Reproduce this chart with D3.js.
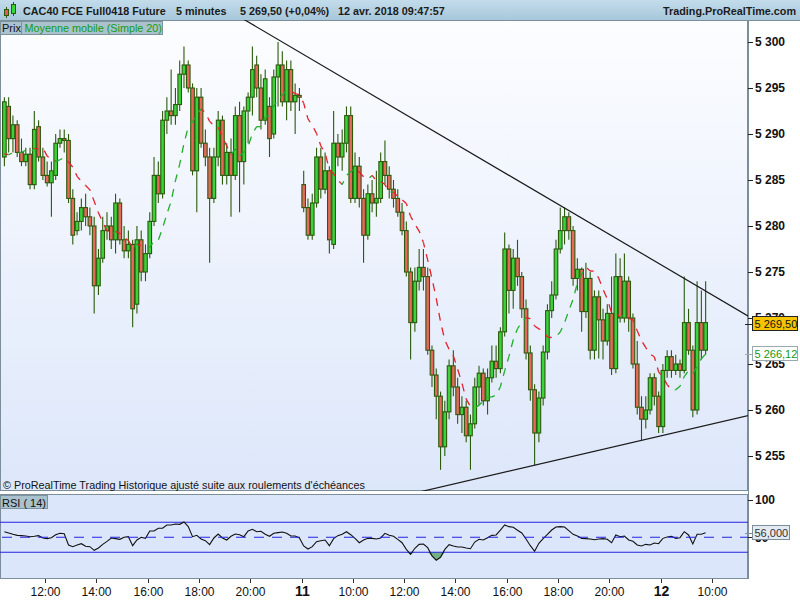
<!DOCTYPE html>
<html><head><meta charset="utf-8">
<script src="https://cdn.jsdelivr.net/npm/d3@7/dist/d3.min.js"></script>
<style>html,body{margin:0;padding:0;background:#fff;}svg{display:block;}</style>
</head><body>
<svg id="chart" width="800" height="600"></svg>
<script>
// ===================== DATA =====================
// trading sessions (10-minute candles), day 0 = 10 avr., 1 = 11 avr., 2 = 12 avr.
const sessions = [
  {day:0, start:"10:20", end:"21:50"},
  {day:1, start:"08:00", end:"21:50"},
  {day:2, start:"08:00", end:"09:40"}
];
const opens = [5287.5,5293,5289.5,5291,5288,5287,5287.8,5284.5,5290.8,5287.5,
5285.5,5284.7,5285.5,5289,5289.5,5289.3,5283,5279.5,5280.5,5282,
5281,5280,5273.5,5276.5,5279.5,5280,5278.5,5282.5,5278.5,5277.3,
5278,5271.5,5278.5,5275,5277,5280.5,5285.5,5283.5,5291.5,5292.5,
5292,5293.2,5296.5,5297.5,5295,5286,5294,5289,5287.5,5283,
5287.5,5291.5,5285.5,5288,5285.5,5292,5287,5292.5,5294,5297.5,
5295,5291.5,5293,5290,5296.2,5297.5,5293.5,5297,5293.5,5294.2,
5284.5,5282,5279,5282.5,5287.5,5284,5286,5278,5289,5287.5,
5289,5292,5283,5286.5,5283,5279,5283.5,5282.5,5283,5287,
5285.5,5284,5283,5281.5,5279.5,5275,5269.5,5274,5275.5,5274.5,
5266.5,5263.8,5261.5,5256,5259.8,5264.8,5262.5,5259.5,5260.3,5257.2,
5258.5,5262.5,5264,5261,5263.5,5265.3,5264.5,5268.5,5277.5,5273,
5276.5,5274.5,5271,5266.2,5262.2,5257.5,5261.3,5266.3,5270.8,5272.5,
5277.5,5279.5,5281,5279.5,5274.3,5275.3,5270.7,5274.3,5266.5,5272.3,
5269.8,5267.5,5270.5,5264.5,5274.5,5270,5274,5270,5265,5260.3,
5259,5260,5263.5,5261.5,5258.2,5264.3,5265.8,5264.3,5265,5264.3,
5269.5,5266.5,5260,5269.5,5266.5];
const highs = [5294,5294,5292,5291.5,5289.5,5288.5,5288.5,5292.5,5291.5,5288.5,
5287,5287,5290,5290.5,5290.5,5290,5284,5281.5,5283,5283.5,
5282,5281,5277.5,5281,5281.5,5281,5283.5,5283,5280,5279.5,
5278.5,5280,5279.5,5278,5281.5,5287.5,5287,5292.5,5294,5297,
5295,5298,5299.5,5298,5295.5,5295,5295,5290.5,5288.5,5288.5,
5292.5,5292,5289,5289.5,5293,5293.5,5293,5294.5,5299.5,5298.5,
5296.5,5297,5294,5297,5300,5299,5298,5298,5295.5,5295,
5286,5283,5283.5,5288.5,5288.5,5288,5286.5,5292.5,5290,5290.5,
5293,5293,5288,5287.5,5284,5284.5,5285,5286,5288,5289.3,
5286.5,5285,5284,5282.5,5280.5,5275.5,5275.5,5277.5,5277.5,5275.5,
5267,5264.5,5262,5261,5265.5,5266.5,5263.5,5261.5,5261,5259.5,
5263.5,5264.8,5264.5,5264.5,5267,5267,5269,5279.3,5278,5277.5,
5278.5,5275,5272,5267,5262.8,5262,5267,5271.5,5274,5278.5,
5282,5282,5281.5,5280,5276.5,5275.5,5276,5275,5273,5273,
5271,5271.5,5274.5,5277,5276.5,5277,5274.5,5270.5,5267.5,5261.5,
5261.5,5264,5264,5262,5265,5266.5,5266.5,5266,5265.5,5274.5,
5271,5267,5274,5273,5274];
const lows = [5286.5,5288,5288,5287.5,5286.5,5286.5,5284,5284,5287,5285,
5284.3,5281,5285,5288.5,5288,5282.5,5278,5279,5279.5,5280,
5279,5270.5,5272.5,5276,5278.5,5277.5,5277,5278,5276.5,5276.5,
5269,5270.5,5274,5274,5276.5,5280,5282.5,5283,5290,5291,
5291,5292.5,5295,5294.5,5285.5,5281.5,5288.5,5286.5,5276,5282.5,
5286.5,5284.5,5284.5,5281,5285,5281.5,5284.5,5289,5292,5294,
5290.5,5291,5287.5,5289.5,5293,5293,5291.5,5292.5,5290,5292.5,
5281.5,5278.5,5278.5,5282,5283,5283.5,5277,5277.5,5286.5,5286,
5288,5282.5,5282.5,5282,5276,5278.5,5281.5,5281,5282.5,5284.5,
5283,5282,5281,5279,5274.5,5265.5,5268.5,5273,5273,5266,
5262.5,5259,5253.5,5255,5259,5261.5,5258.5,5257.5,5256.5,5253.5,
5258,5260.5,5260.5,5259.5,5263,5263.5,5264,5268,5270.5,5271,
5273.5,5270,5265.5,5261,5254,5256.5,5260.5,5265.5,5270,5272,
5277,5278,5278.5,5273.5,5273,5268.5,5270,5265.5,5265.5,5265.6,
5265.5,5267,5263.8,5264,5269.5,5269.5,5268.5,5264.5,5259.5,5256.7,
5258,5259.5,5260.5,5257.5,5257.5,5263.5,5263.5,5263.8,5263.5,5264,
5266,5259.2,5259.5,5265.5,5266];
const closes = [5293.5,5289.5,5291,5288,5287,5287.8,5284.5,5290.5,5287.5,5285.5,
5284.7,5286,5289,5289.5,5289.3,5283,5279,5280.5,5282,5281,
5280,5273.5,5276.5,5279.5,5280,5278.5,5282.5,5278.5,5277.3,5278,
5271,5278.5,5275,5277,5280.5,5285.5,5283.5,5291.5,5292.5,5292,
5293.2,5296.5,5297.5,5295,5286,5294,5289,5287.5,5283,5287.5,
5291.5,5285.5,5288,5285.5,5292,5287,5292.5,5294,5297,5295,
5291.5,5296,5289.5,5296.2,5297.5,5293.5,5297,5293.5,5294.2,5294,
5282,5279,5282.5,5287.5,5284,5286,5278.5,5289,5287.5,5289,
5292,5283,5286.5,5283,5279,5283.5,5282.5,5283,5287,5285.5,
5284,5283,5281.5,5279.5,5275,5269.5,5274,5275.5,5274.5,5266.5,
5263.8,5261.5,5256,5259.8,5264.8,5262.5,5259.5,5260.3,5257.2,5258.5,
5262.5,5264,5261,5263.5,5265.3,5264.5,5268.5,5277.5,5273,5276.5,
5274.5,5271,5266.2,5262.2,5257.5,5261.3,5266.3,5270.8,5272.5,5277.5,
5279.5,5281,5279.5,5274.3,5275.3,5270.7,5274.3,5266.5,5272.3,5269.8,
5267.5,5270.5,5264.5,5274.5,5270,5274,5270,5265,5260.3,5259,
5260,5263.5,5261.5,5258.2,5264.3,5265.8,5264.3,5265,5264.3,5269.5,
5266.5,5260,5269.5,5266.5,5269.5];
// estimated closes of the candles just before the visible window (feed the moving average)
const priorCloses = [5290.5,5289,5288.5,5286,5285.5,5287,5286,5288,5284.5];
const maPeriod = 10; // 10 x 10 min = 20 x 5 min
// RSI (14) read per candle
const rsiValues = [57.5,55.7,54,52.6,52.2,51.7,50.8,51.3,52.2,49.1,
48.2,49.5,53.5,55.3,54.8,39.7,37.5,39.7,41.5,38,
37.5,32.6,35.7,40.6,44.6,49.1,48.2,47.3,50,50.8,
38.8,46.4,50,48.6,58.4,58.4,62,62,66.4,66.4,
67.7,67.3,70.4,64.2,50.8,52.6,47.7,45.5,40.2,49.1,
54.4,49.1,46.4,51.3,54.4,53.5,50.8,58.4,60.6,57.5,
58,54,51.3,55.3,56.2,57.1,55.3,51.7,51.7,49.1,
38.4,34.4,37.5,44.2,45.5,46.4,38.8,48.2,52.2,54,
57.5,53.5,48.6,42.8,46.4,48.6,48.6,47.7,49.1,55.3,
52.6,51.3,47.3,42.8,33.9,27.3,35.4,40.6,41.1,36.2,
25.1,19.5,23.3,33.9,40.2,38.4,37.1,37.1,35.7,34.8,
43.7,47.3,46.4,49.5,52.6,53.1,59.7,66.4,64.2,63.3,
59.3,55.7,47.7,38.8,31.3,42,48.2,54,59.7,63.7,
64.2,63.7,58.8,54,51.7,48.6,48.2,47.7,46.8,47.7,
48.2,47.3,42.8,53.1,50.8,51.7,46.4,44.6,39.7,38.4,
40.6,39.7,42.4,41.5,48.6,50.4,51.3,48.6,49.5,57.5,
53.1,41.1,54,54,56];
const rsiLevels = {low:30, mid:50, high:70};
const priceTicks = [5255,5260,5265,5270,5275,5280,5285,5290,5295,5300];
const rsiTicks = [50,100];
const timeTicks = [
  {day:0,time:"12:00",label:"12:00"},{day:0,time:"14:00",label:"14:00"},{day:0,time:"16:00",label:"16:00"},
  {day:0,time:"18:00",label:"18:00"},{day:0,time:"20:00",label:"20:00"},{day:1,time:"08:00",label:"11",bold:true},
  {day:1,time:"10:00",label:"10:00"},{day:1,time:"12:00",label:"12:00"},{day:1,time:"14:00",label:"14:00"},
  {day:1,time:"16:00",label:"16:00"},{day:1,time:"18:00",label:"18:00"},{day:1,time:"20:00",label:"20:00"},
  {day:2,time:"08:00",label:"12",bold:true},{day:2,time:"10:00",label:"10:00"}
];
// trend lines: two anchors each (candle index, price)
const trendUpper = [{bar:65, price:5300},{bar:159, price:5274.3}];
const trendLower = [{bar:124, price:5254},{bar:149, price:5256.7}];
const lastPrice = 5269.50, maLast = 5266.12, rsiLast = 56.0;
const headerTexts = ["CAC40 FCE Full0418 Future","5 minutes","5 269,50 (+0,04%)","12 avr. 2018 09:47:57"];

// ===================== LAYOUT =====================
const svg = d3.select("#chart");
const FONT = '"Liberation Sans", Arial, Helvetica, sans-serif';
svg.style("font-family", FONT);
const P = {x0:0, x1:748, y0:20, y1:491};
const R = {y0:494, y1:579};
const loc = d3.formatLocale({decimal:",", thousands:"\u00a0", grouping:[3], currency:["",""]});
const f0 = loc.format(",.0f"), f2 = loc.format(",.2f"), f3 = loc.format(",.3f");

// trading-time units: one unit = 10 minutes, unit 0 = day0 12:00, 84 units per session (08:00-22:00)
const toMin = s => { const [h,m] = s.split(":").map(Number); return h*60+m; };
const unitOf = (day, t) => day*84 + (toMin(t) - 480)/10 - 24;
const bars = [];
sessions.forEach(s => { for (let m = toMin(s.start); m <= toMin(s.end); m += 10) bars.push({day:s.day, u: s.day*84 + (m-480)/10 - 24}); });
const x = d3.scaleLinear().domain([0,156]).range([45, 712.06]);
const xBar = i => x(bars[i].u + 0.5);
const y = d3.scaleLinear().domain([5255,5300]).range([456,42]);
const yR = d3.scaleLinear().domain([0,100]).range([574.8,499.8]);

// defs
const defs = svg.append("defs");
const gH = defs.append("linearGradient").attr("id","hdr").attr("x1",0).attr("y1",0).attr("x2",0).attr("y2",1);
gH.append("stop").attr("offset","0%").attr("stop-color","#c3dceb");
gH.append("stop").attr("offset","100%").attr("stop-color","#a7c7da");
const gP = defs.append("linearGradient").attr("id","pbg").attr("x1",0).attr("y1",0).attr("x2",0).attr("y2",1);
gP.append("stop").attr("offset","0%").attr("stop-color","#fcfdff");
gP.append("stop").attr("offset","100%").attr("stop-color","#dde7fa");
defs.append("clipPath").attr("id","clipP").append("rect").attr("x",P.x0).attr("y",P.y0).attr("width",P.x1-P.x0).attr("height",P.y1-P.y0);
defs.append("clipPath").attr("id","clipR").append("rect").attr("x",0).attr("y",R.y0).attr("width",P.x1).attr("height",R.y1-R.y0);

// header
svg.append("rect").attr("x",0).attr("y",0).attr("width",800).attr("height",20).attr("fill","url(#hdr)");
svg.append("line").attr("x1",0).attr("x2",800).attr("y1",20.5).attr("y2",20.5).attr("stroke","#7d8e9b");
// header icon
const ic = svg.append("g").attr("shape-rendering","crispEdges");
ic.append("line").attr("x1",6.5).attr("x2",6.5).attr("y1",7).attr("y2",18).attr("stroke","#2b5c0c");
ic.append("rect").attr("x",4.5).attr("y",9.5).attr("width",4).attr("height",6).attr("fill","#e85a50").attr("stroke","#2b5c0c");
ic.append("line").attr("x1",13.5).attr("x2",13.5).attr("y1",2).attr("y2",16).attr("stroke","#2b5c0c");
ic.append("rect").attr("x",11.5).attr("y",4.5).attr("width",4).attr("height",9).attr("fill","#3ad53a").attr("stroke","#2b5c0c");
const hx = [23,176,240,338];
headerTexts.forEach((t,i)=> svg.append("text").attr("x",hx[i]).attr("y",15).attr("font-size",10.8).attr("font-weight","bold").attr("fill","#1b1b1b").text(t));
svg.append("text").attr("x",796).attr("y",15).attr("text-anchor","end").attr("font-size",10.8).attr("font-weight","bold").attr("fill","#1b1b1b").text("Trading.ProRealTime.com");

// main panel
svg.append("rect").attr("x",P.x0+0.5).attr("y",P.y0+0.5).attr("width",P.x1-P.x0-1).attr("height",P.y1-P.y0-1).attr("fill","url(#pbg)").attr("stroke","#7d8e9b");
// RSI panel
svg.append("rect").attr("x",0.5).attr("y",R.y0+0.5).attr("width",P.x1-1).attr("height",R.y1-R.y0-1).attr("fill","#dce6fb").attr("stroke","#7d8e9b");

// candles
const cg = svg.append("g").attr("clip-path","url(#clipP)");
const UP_FILL="#3bd23b", DN_FILL="#e8685c", EDGE="#2b5a0b";
const bw = 3.6;
closes.forEach((c,i)=>{
  const o = opens[i], h = Math.max(highs[i],o,c), l = Math.min(lows[i],o,c);
  const cx = xBar(i);
  cg.append("line").attr("x1",cx).attr("x2",cx).attr("y1",y(h)).attr("y2",y(l)).attr("stroke",EDGE).attr("stroke-width",1.1);
  const top = y(Math.max(o,c)), bot = y(Math.min(o,c));
  cg.append("rect").attr("x",cx-bw/2).attr("y",top).attr("width",bw).attr("height",Math.max(1,bot-top))
    .attr("fill", c>=o?UP_FILL:DN_FILL).attr("stroke",EDGE).attr("stroke-width",1.1);
});

// moving average (simple)
const all = priorCloses.concat(closes);
const ma = closes.map((c,i)=>{ const k = i+priorCloses.length; return d3.mean(all.slice(k-maPeriod+1,k+1)); });
const mg = svg.append("g").attr("clip-path","url(#clipP)");
let cum = 0;
for (let i=1;i<ma.length;i++){
  const x1=xBar(i-1), y1=y(ma[i-1]), x2=xBar(i), y2=y(ma[i]);
  mg.append("line").attr("x1",x1).attr("y1",y1).attr("x2",x2).attr("y2",y2)
    .attr("stroke", ma[i]>=ma[i-1] ? "#1fae2a" : "#e4202a").attr("stroke-width",1.3)
    .attr("stroke-dasharray","8,7").attr("stroke-dashoffset",cum);
  cum += Math.hypot(x2-x1,y2-y1);
}

// trend lines
const tg = svg.append("g").attr("clip-path","url(#clipP)");
function trend(a){
  const xa=xBar(a[0].bar), ya=y(a[0].price), xb=xBar(a[1].bar), yb=y(a[1].price);
  const s=(yb-ya)/(xb-xa);
  tg.append("line").attr("x1",-10).attr("y1",ya+s*(-10-xa)).attr("x2",760).attr("y2",ya+s*(760-xa))
    .attr("stroke","#1a1a1a").attr("stroke-width",1.2);
}
trend(trendUpper); trend(trendLower);

// legend boxes
svg.append("rect").attr("x",0.5).attr("y",21.5).attr("width",21).attr("height",13).attr("fill","#a9c2cd").attr("stroke","#7d949f");
svg.append("text").attr("x",2).attr("y",32).attr("font-size",11).attr("fill","#111").text("Prix");
svg.append("rect").attr("x",21.5).attr("y",21.5).attr("width",141).attr("height",13).attr("fill","#a9c2cd").attr("stroke","#7d949f");
svg.append("text").attr("x",24.5).attr("y",32).attr("font-size",10.8).attr("fill","#139a16").text("Moyenne mobile (Simple 20)");
svg.append("text").attr("x",3).attr("y",489).attr("font-size",10.8).attr("fill","#111").text("\u00a9 ProRealTime Trading  Historique ajust\u00e9 suite aux roulements d'\u00e9ch\u00e9ances");

// RSI panel content
const rg = svg.append("g").attr("clip-path","url(#clipR)");
const area = d3.area().x((d,i)=>xBar(i)).y0(yR(rsiLevels.low)).y1(d=>yR(Math.min(d,rsiLevels.low)));
rg.append("path").datum(rsiValues).attr("d",area).attr("fill","#5fa86e").attr("opacity",0.85);
const areaH = d3.area().x((d,i)=>xBar(i)).y0(yR(rsiLevels.high)).y1(d=>yR(Math.max(d,rsiLevels.high)));
rg.append("path").datum(rsiValues).attr("d",areaH).attr("fill","#e07070").attr("opacity",0.7);
[rsiLevels.low, rsiLevels.high].forEach(v=> rg.append("line").attr("x1",0).attr("x2",P.x1).attr("y1",yR(v)).attr("y2",yR(v)).attr("stroke","#2424e0").attr("stroke-width",1.1));
svg.append("line").attr("x1",2).attr("x2",752).attr("y1",yR(rsiLevels.mid)).attr("y2",yR(rsiLevels.mid)).attr("stroke","#2424e0").attr("stroke-width",1.1).attr("stroke-dasharray","10,8");
rg.append("path").datum(rsiValues).attr("d",d3.line().x((d,i)=>xBar(i)).y(d=>yR(d))).attr("fill","none").attr("stroke","#111").attr("stroke-width",1.1);
svg.append("rect").attr("x",0.5).attr("y",R.y0+1.5).attr("width",47).attr("height",13).attr("fill","#a9c2cd").attr("stroke","#7d949f");
svg.append("text").attr("x",2).attr("y",R.y0+12.5).attr("font-size",11).attr("fill","#111").text("RSI ( 14)");

// right axis
svg.append("rect").attr("x",748).attr("y",21).attr("width",52).attr("height",558).attr("fill","#fff");
svg.append("line").attr("x1",748.5).attr("x2",748.5).attr("y1",21).attr("y2",579).attr("stroke","#7d8e9b");
const ax = svg.append("g");
priceTicks.forEach(p=>{
  ax.append("line").attr("x1",748).attr("x2",753).attr("y1",Math.round(y(p))+0.5).attr("y2",Math.round(y(p))+0.5).attr("stroke","#222");
  ax.append("text").attr("x",755).attr("y",y(p)).attr("dy","0.36em").attr("font-size",12).attr("font-weight","bold").attr("fill","#111").text(f0(p));
});
rsiTicks.forEach(v=>{
  ax.append("line").attr("x1",748).attr("x2",753).attr("y1",Math.round(yR(v))+0.5).attr("y2",Math.round(yR(v))+0.5).attr("stroke","#222");
  ax.append("text").attr("x",755).attr("y",yR(v)).attr("dy","0.36em").attr("font-size",12).attr("font-weight","bold").attr("fill","#111").text(v);
});
// value labels
function tag(yy, txt, fill, stroke, color, w){
  ax.append("line").attr("x1",745).attr("x2",753).attr("y1",Math.round(yy)+0.5).attr("y2",Math.round(yy)+0.5).attr("stroke",stroke);
  ax.append("rect").attr("x",752.5).attr("y",Math.round(yy)-7.5).attr("width",w).attr("height",14).attr("fill",fill).attr("stroke",stroke);
  ax.append("text").attr("x",754.5).attr("y",yy).attr("dy","0.36em").attr("font-size",11).attr("fill",color).text(txt);
}
tag(y(lastPrice)+1, f2(lastPrice), "#f6c400", "#222", "#111", 45);
tag(y(maLast), f2(maLast), "#ffffff", "#9aa8b0", "#139a16", 45);
tag(yR(rsiLast), f3(rsiLast), "#e4eaf2", "#7d8e9b", "#333", 37);

// time axis
const tx = svg.append("g");
timeTicks.forEach(t=>{
  const xx = Math.round(x(unitOf(t.day,t.time)))+0.5;
  tx.append("line").attr("x1",xx).attr("x2",xx).attr("y1",579).attr("y2",583).attr("stroke","#333");
  tx.append("text").attr("x",xx).attr("y",596).attr("text-anchor","middle")
    .attr("font-size", t.bold?14:12).attr("font-weight", t.bold?"bold":"normal").attr("fill","#111").text(t.label);
});
</script>
</body></html>
